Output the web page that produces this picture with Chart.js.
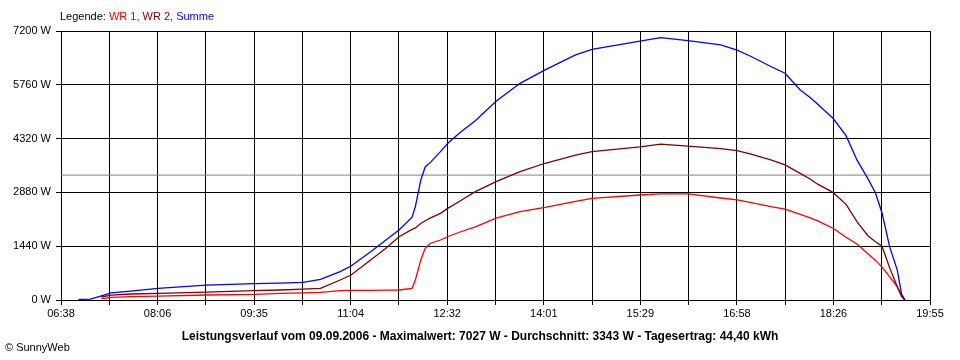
<!DOCTYPE html>
<html>
<head>
<meta charset="utf-8">
<title>Leistungsverlauf</title>
<script src="https://cdn.jsdelivr.net/npm/chart.js@4/dist/chart.umd.min.js"></script>
<style>
  body { margin: 0; background: #fff; }
  canvas { display: block; }
</style>
</head>
<body>
<canvas id="chart" width="960" height="360"></canvas>
<script>
// Messzeitpunkte (gelesen aus dem Diagramm)
const times = ['06:54','07:05','07:15','07:24','07:42','08:07','08:51','09:35','09:59','10:20',
    '10:36','10:54','11:04','11:22','11:36','11:48','12:00','12:03','12:08','12:12',
    '12:17','12:26','12:33','12:44','12:58','13:17','13:39','14:02','14:30','14:45',
    '15:29','15:48','16:13','16:43','16:58','17:10','17:29','17:42','17:56','18:05',
    '18:12','18:26','18:38','18:48','18:58','19:05','19:11','19:18','19:25','19:29',
    '19:32'];

const summe = [15,25,110,190,240,310,400,440,450,470,
    555,760,910,1290,1606,1875,2215,2500,3210,3560,
    3690,3970,4200,4485,4800,5320,5800,6160,6560,6710,
    6930,7020,6940,6830,6690,6530,6250,6070,5620,5420,
    5240,4865,4400,3750,3250,2865,2330,1420,800,150,
    0];

const wr2 = [null,null,80,130,160,180,210,250,268,290,
    313,535,670,1070,1385,1695,1890,1930,2050,2120,
    2200,2320,2460,2650,2900,3170,3435,3660,3880,3970,
    4100,4170,4120,4050,4000,3910,3750,3615,3390,3240,
    3100,2880,2560,2100,1720,1560,1440,860,356,90,
    0];

const wr1 = [null,null,30,70,90,105,134,150,180,190,
    205,250,255,260,265,268,313,535,1070,1385,
    1520,1606,1700,1820,1960,2190,2365,2480,2640,2720,
    2810,2840,2840,2730,2680,2610,2500,2430,2290,2200,
    2120,1920,1680,1500,1240,1060,880,620,350,130,
    0];

const durchschnitt = 3343;

const xTickLabels = ['06:38','08:06','09:35','11:04','12:32','14:01','15:29','16:58','18:26','19:55'];
const yTicks = [0, 1440, 2880, 4320, 5760, 7200];

function toMinutes(t) {
    const [h, m] = t.split(':').map(Number);
    return h * 60 + m;
}

const xMin = toMinutes(xTickLabels[0]);
const xMax = toMinutes(xTickLabels[xTickLabels.length - 1]);

function points(values) {
    return times.map((t, i) => ({ x: toMinutes(t), y: values[i] }));
}

// Legende oben und Beschriftung unten
const textPlugin = {
    id: 'texts',
    afterDraw(chart) {
        const ctx = chart.ctx;
        ctx.save();
        ctx.textBaseline = 'middle';
        ctx.font = '11px "Liberation Sans", Arial, sans-serif';
        let x = 60;
        const parts = [
            ['Legende: ', '#000'],
            ['WR 1, ', '#ff0000'],
            ['WR 2, ', '#800000'],
            ['Summe', '#0000ff']
        ];
        parts.forEach(([txt, col]) => {
            ctx.fillStyle = col;
            ctx.fillText(txt, x, 17);
            x += ctx.measureText(txt).width;
        });

        ctx.fillStyle = '#000';
        ctx.font = 'bold 12px "Liberation Sans", Arial, sans-serif';
        ctx.textAlign = 'center';
        ctx.fillText('Leistungsverlauf vom 09.09.2006 - Maximalwert: 7027 W - Durchschnitt: 3343 W - Tagesertrag: 44,40 kWh', 480, 337);

        ctx.font = '11px "Liberation Sans", Arial, sans-serif';
        ctx.textAlign = 'left';
        ctx.fillText('\u00A9 SunnyWeb', 5, 348);
        ctx.restore();
    }
};

const tickFont = { family: '"Liberation Sans", Arial, sans-serif', size: 11 };

new Chart(document.getElementById('chart'), {
    type: 'line',
    data: {
        datasets: [
            { label: 'Summe', data: points(summe), borderColor: '#0000ff' },
            { label: 'WR 2', data: points(wr2), borderColor: '#800000' },
            { label: 'WR 1', data: points(wr1), borderColor: '#ff0000' },
            {
                label: 'Durchschnitt',
                data: [{ x: xMin, y: durchschnitt }, { x: xMax, y: durchschnitt }],
                borderColor: '#808080',
                borderWidth: 1
            }
        ]
    },
    options: {
        responsive: false,
        animation: false,
        devicePixelRatio: 1,
        layout: { padding: { left: 0, right: 30, top: 31, bottom: 0 } },
        elements: {
            line: { borderWidth: 1.3, tension: 0, fill: false },
            point: { radius: 0 }
        },
        plugins: {
            legend: { display: false },
            tooltip: { enabled: false }
        },
        scales: {
            x: {
                type: 'linear',
                min: xMin,
                max: xMax,
                afterBuildTicks: scale => {
                    const ticks = [];
                    for (let i = 0; i <= 18; i++) {
                        ticks.push({ value: xMin + i * (xMax - xMin) / 18 });
                    }
                    scale.ticks = ticks;
                },
                afterFit: scale => { scale.height = 60; },
                grid: { color: '#000', tickLength: 5 },
                border: { color: '#000' },
                ticks: {
                    autoSkip: false,
                    maxRotation: 0,
                    padding: 2,
                    color: '#000',
                    font: tickFont,
                    callback: (value, index) => index % 2 === 0 ? xTickLabels[index / 2] : ''
                }
            },
            y: {
                min: 0,
                max: 7200,
                afterBuildTicks: scale => {
                    scale.ticks = yTicks.map(v => ({ value: v }));
                },
                afterFit: scale => { scale.width = 61; },
                grid: { color: '#000', tickLength: 5 },
                border: { color: '#000' },
                ticks: {
                    padding: 5,
                    color: '#000',
                    font: tickFont,
                    callback: value => value + ' W'
                }
            }
        }
    },
    plugins: [textPlugin]
});
</script>
</body>
</html>
